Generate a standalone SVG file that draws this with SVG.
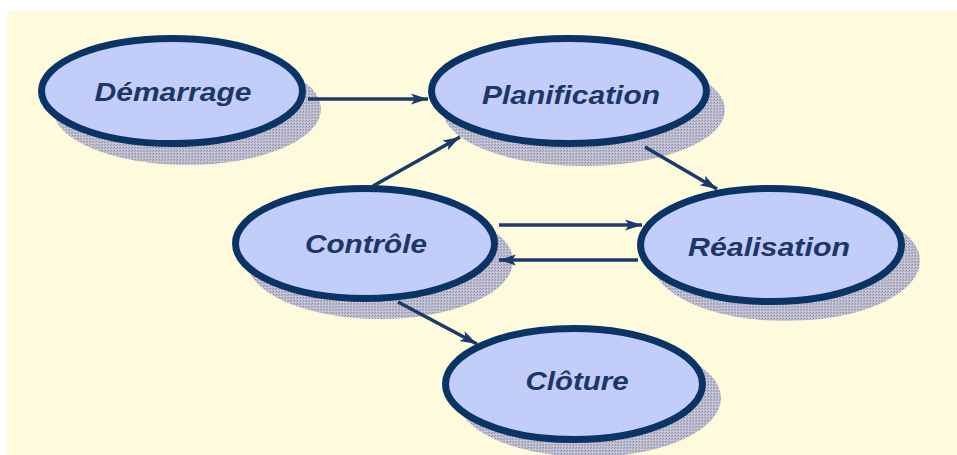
<svg xmlns="http://www.w3.org/2000/svg" width="957" height="455" viewBox="0 0 957 455">
  <style>
    .node { fill: #c2cdfa; stroke: #0b3466; stroke-width: 7; }
    .shadow { fill: url(#stipple); }
    .label { font-family: "Liberation Sans", Arial, sans-serif; font-weight: bold; font-style: italic; font-size: 25px; fill: #1c3766; text-anchor: middle; }
    .edge { stroke: #1b3a6b; stroke-width: 3.5; fill: none; marker-end: url(#arrow); }
  </style>
  <defs>
    <pattern id="stipple" width="3" height="3" patternUnits="userSpaceOnUse">
      <rect width="3" height="3" fill="#bdbdcf"/>
      <rect width="1" height="1" fill="#8e8ea8"/>
      <rect x="2" y="1" width="1" height="1" fill="#9c9cb4"/>
      <rect x="1" y="2" width="1" height="1" fill="#d6d6e2"/>
    </pattern>
    <marker id="arrow" markerUnits="userSpaceOnUse" markerWidth="18" markerHeight="14" viewBox="0 0 18 14" refX="17" refY="7" orient="auto">
      <path d="M0,1.5 L17,7 L0,12.5 L4,7 Z" fill="#1b3a6b"/>
    </marker>
  </defs>

  <!-- background panel -->
  <rect x="7" y="11" width="950" height="444" fill="#fefadc"/>

  <!-- drop shadows -->
  <g id="shadows">
    <ellipse class="shadow" cx="187" cy="109" rx="134" ry="56"/>
    <ellipse class="shadow" cx="584" cy="110" rx="141" ry="56"/>
    <ellipse class="shadow" cx="380" cy="261" rx="133" ry="58"/>
    <ellipse class="shadow" cx="786" cy="261" rx="134" ry="60"/>
    <ellipse class="shadow" cx="589" cy="398" rx="132" ry="59"/>
  </g>

  <!-- connectors -->
  <g id="edges">
    <line class="edge" x1="308" y1="99" x2="428" y2="99"/>
    <line class="edge" x1="373" y1="186" x2="460" y2="137"/>
    <line class="edge" x1="645" y1="147" x2="717" y2="189"/>
    <line class="edge" x1="499" y1="225" x2="642" y2="225"/>
    <line class="edge" x1="638" y1="260" x2="499" y2="260"/>
    <line class="edge" x1="398" y1="302" x2="477" y2="344"/>
  </g>

  <g id="demarrage">
    <ellipse class="node" cx="172" cy="91" rx="130.5" ry="52.5"/>
    <text class="label" x="173" y="101" textLength="157" lengthAdjust="spacingAndGlyphs">Démarrage</text>
  </g>
  <g id="planification">
    <ellipse class="node" cx="569" cy="91" rx="137.5" ry="52.5"/>
    <text class="label" x="571" y="104" textLength="178" lengthAdjust="spacingAndGlyphs">Planification</text>
  </g>
  <g id="controle">
    <ellipse class="node" cx="365" cy="243.5" rx="129.5" ry="55"/>
    <text class="label" x="366" y="253" textLength="122" lengthAdjust="spacingAndGlyphs">Contrôle</text>
  </g>
  <g id="realisation">
    <ellipse class="node" cx="771" cy="245" rx="130.5" ry="56.5"/>
    <text class="label" x="769" y="256" textLength="162" lengthAdjust="spacingAndGlyphs">Réalisation</text>
  </g>
  <g id="cloture">
    <ellipse class="node" cx="574" cy="384" rx="128.5" ry="55.5"/>
    <text class="label" x="577" y="390" textLength="103" lengthAdjust="spacingAndGlyphs">Clôture</text>
  </g>
</svg>
